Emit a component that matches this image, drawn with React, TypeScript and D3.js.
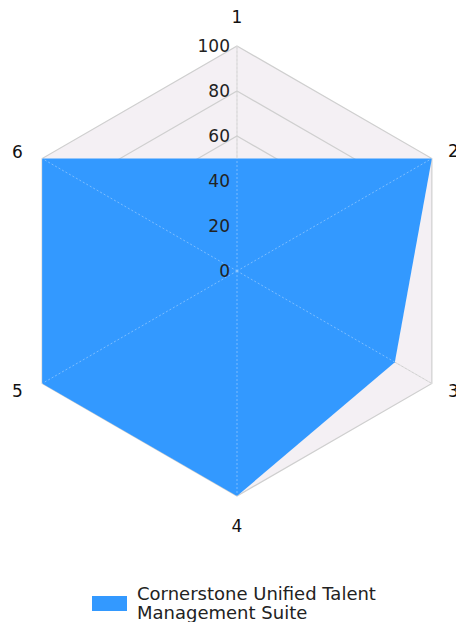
import React from "react";
import * as d3 from "d3";

const axes = ["1", "2", "3", "4", "5", "6"];
const values = [50, 100, 81, 100, 100, 100];
const ticks = [0, 20, 40, 60, 80, 100];
const seriesName = ["Cornerstone Unified Talent", "Management Suite"];

const W = 456;
const H = 622;
const cx = 237;
const cy = 271;
const R = 225;
const FONT = "'DejaVu Sans', Verdana, sans-serif";

export default function App() {
  const r = d3.scaleLinear().domain([0, 100]).range([0, R]);
  const angle = d3
    .scaleLinear()
    .domain([0, axes.length])
    .range([0, 2 * Math.PI]);
  const pt = (i: number, v: number): [number, number] => {
    const a = angle(i);
    return [cx + r(v) * Math.sin(a), cy - r(v) * Math.cos(a)];
  };
  const closed = d3.line<[number, number]>().curve(d3.curveLinearClosed);
  const ring = (v: number) => closed(axes.map((_, i) => pt(i, v))) || "";
  const dataPath = closed(values.map((v, i) => pt(i, v))) || "";

  const labelPos = [
    { x: 237, y: 23, anchor: "middle" },
    { x: 448, y: 157, anchor: "start" },
    { x: 448, y: 397, anchor: "start" },
    { x: 237, y: 532, anchor: "middle" },
    { x: 12, y: 397, anchor: "start" },
    { x: 12, y: 158, anchor: "start" },
  ];

  return (
    <svg
      width={W}
      height={H}
      style={{ position: "absolute", left: 0, top: 0, background: "#fff" }}
      fontFamily={FONT}
    >
      <path d={ring(100)} fill="#f4f0f4" stroke="none" />
      {ticks
        .filter((t) => t > 0)
        .map((t) => (
          <path key={t} d={ring(t)} fill="none" stroke="#cfcfcf" strokeWidth={1.2} />
        ))}
      {axes.map((_, i) => {
        const [x, y] = pt(i, 100);
        return <line key={i} x1={cx} y1={cy} x2={x} y2={y} stroke="#cfcfcf" strokeWidth={1} />;
      })}
      <path d={dataPath} fill="#3399ff" stroke="none" />
      {axes.map((_, i) => {
        const [x, y] = pt(i, 100);
        return (
          <line
            key={"s" + i}
            x1={cx}
            y1={cy}
            x2={x}
            y2={y}
            stroke="rgba(255,255,255,0.35)"
            strokeWidth={1}
            strokeDasharray="2,2"
          />
        );
      })}
      {ticks.map((t) => (
        <text
          key={"t" + t}
          x={cx - 7}
          y={cy - r(t) + 6}
          textAnchor="end"
          fontSize={17}
          fill="#222"
        >
          {t}
        </text>
      ))}
      {axes.map((a, i) => (
        <text
          key={"a" + a}
          x={labelPos[i].x}
          y={labelPos[i].y}
          textAnchor={labelPos[i].anchor as any}
          fontSize={17}
          fill="#111"
        >
          {a}
        </text>
      ))}
      <rect x={92} y={596} width={35} height={15} fill="#3399ff" />
      {seriesName.map((s, i) => (
        <text key={s} x={137} y={600 + i * 19} fontSize={18} fill="#222">
          {s}
        </text>
      ))}
    </svg>
  );
}
